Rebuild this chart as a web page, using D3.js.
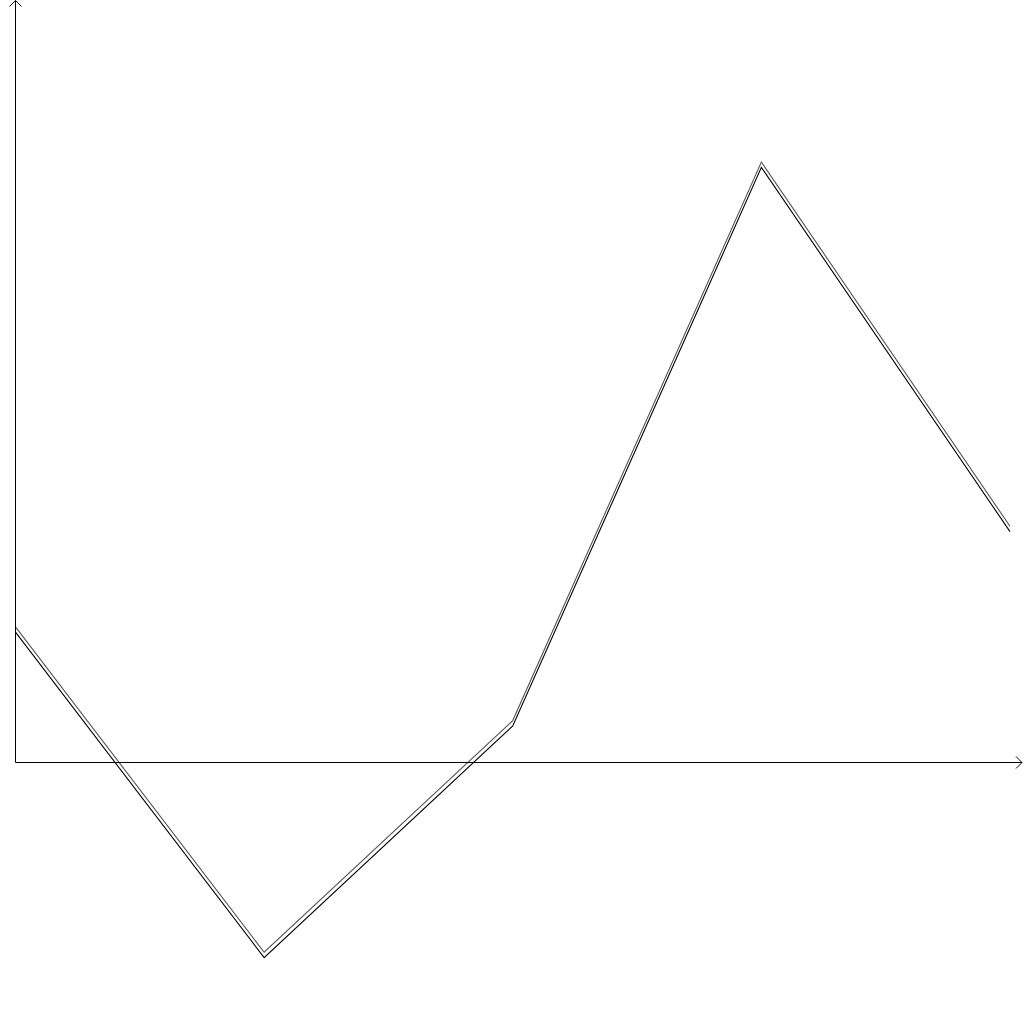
<!DOCTYPE html>
<html><head><meta charset="utf-8">
<script src="https://cdn.jsdelivr.net/npm/d3@7"></script>
<style>html,body{margin:0;padding:0;background:#fff;}svg{display:block;}</style>
</head><body>
<svg id="chart" width="1024" height="1024"></svg>
<script>
const categories = [0, 1, 2, 3, 4];
const seriesA = [17.8, -24.9, 5.5, 78.8, 31.0];
const seriesB = [17.1, -25.6, 4.8, 78.1, 30.3];
const seriesColors = ["#555", "#000"];

const svg = d3.select("#chart");
const x = d3.scaleLinear().domain([0, 4]).range([15.5, 1010]);
const y = d3.scaleLinear().domain([0, 100]).range([762.5, 0.5]);

const line = d3.line().x((d, i) => x(categories[i])).y(d => y(d));
[seriesA, seriesB].forEach((s, k) => {
  svg.append("path").datum(s).attr("d", line)
    .attr("fill", "none").attr("stroke", seriesColors[k]).attr("stroke-width", 1.1);
});

// axes
const x0 = x(0), y0 = y(0);
svg.append("line").attr("x1", x0).attr("x2", x0).attr("y1", y0).attr("y2", 0.5)
  .attr("stroke", "#000").attr("stroke-width", 1);
svg.append("line").attr("x1", x0).attr("x2", 1022).attr("y1", y0).attr("y2", y0)
  .attr("stroke", "#000").attr("stroke-width", 1);
svg.append("path").attr("d", `M${x0-6},6.5 L${x0},0.5 L${x0+6},6.5`)
  .attr("fill", "none").attr("stroke", "#000").attr("stroke-width", 1);
svg.append("path").attr("d", `M1016,${y0-6} L1022,${y0} L1016,${y0+6}`)
  .attr("fill", "none").attr("stroke", "#000").attr("stroke-width", 1);
</script>
</body></html>
